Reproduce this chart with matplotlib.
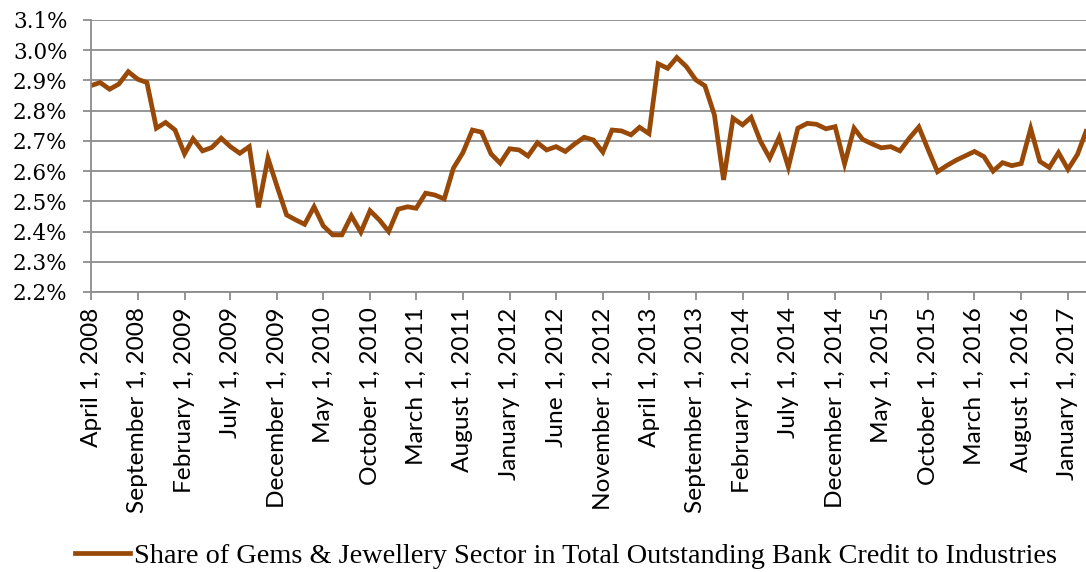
import matplotlib
matplotlib.use("Agg")
import matplotlib.pyplot as plt
import pandas as pd

# monthly share (%) from April 2008 to March 2017
months = pd.date_range("2008-04-01", "2017-03-01", freq="MS")
share = [
    2.883, 2.893, 2.871, 2.888, 2.929, 2.904, 2.893, 2.742, 2.761, 2.736,  # 2008-04 .. 2009-01
    2.657, 2.707, 2.667, 2.678, 2.709, 2.681, 2.659, 2.681, 2.480, 2.643,  # 2009-02 .. 2009-11
    2.549, 2.455, 2.438, 2.424, 2.482, 2.419, 2.389, 2.389, 2.452, 2.398,  # 2009-12 .. 2010-09
    2.469, 2.438, 2.400, 2.474, 2.482, 2.477, 2.527, 2.521, 2.508, 2.610,  # 2010-10 .. 2011-07
    2.661, 2.736, 2.729, 2.657, 2.626, 2.674, 2.670, 2.650, 2.694, 2.670,  # 2011-08 .. 2012-05
    2.681, 2.665, 2.690, 2.712, 2.703, 2.663, 2.736, 2.733, 2.720, 2.745,  # 2012-06 .. 2013-03
    2.724, 2.955, 2.940, 2.976, 2.946, 2.902, 2.882, 2.786, 2.571, 2.775,  # 2013-04 .. 2014-01
    2.753, 2.778, 2.698, 2.643, 2.712, 2.613, 2.742, 2.758, 2.755, 2.740,  # 2014-02 .. 2014-11
    2.747, 2.624, 2.742, 2.705, 2.690, 2.677, 2.681, 2.667, 2.709, 2.746,  # 2014-12 .. 2015-09
    2.672, 2.598, 2.618, 2.636, 2.651, 2.665, 2.648, 2.600, 2.628, 2.618,  # 2015-10 .. 2016-07
    2.625, 2.741, 2.632, 2.612, 2.661, 2.606, 2.655, 2.731,                # 2016-08 .. 2017-03
]
y_ticks = [2.2, 2.3, 2.4, 2.5, 2.6, 2.7, 2.8, 2.9, 3.0, 3.1]
label = "Share of Gems & Jewellery Sector in Total Outstanding Bank Credit to Industries"

line_color = "#984807"
grid_color = "#8c8c8c"

fig = plt.figure(figsize=(10.86, 5.72), dpi=100)
ax = fig.add_axes([91 / 1086, 1 - 292 / 572, 1 - 91 / 1086, 272 / 572])

ax.plot(months, share, color=line_color, lw=3.4, solid_joinstyle="miter",
        label=label)

ax.set_ylim(y_ticks[0], y_ticks[-1])
ax.set_yticks(y_ticks)
ax.set_yticklabels([f"{v:.1f}%" for v in y_ticks],
                   family="DejaVu Serif", fontsize=15.5)
ax.grid(axis="y", color=grid_color, lw=1.3)
ax.set_axisbelow(True)

ax.set_xlim(months[0], months[-1])
tick_dates = months[::5]
ax.set_xticks(tick_dates)
ax.set_xticklabels([f"{d:%B} 1, {d.year}" for d in tick_dates],
                   rotation=90, family="Lato", fontsize=17.6)

for side in ["top", "right"]:
    ax.spines[side].set_visible(False)
for side in ["left", "bottom"]:
    ax.spines[side].set_color(grid_color)
    ax.spines[side].set_linewidth(1.3)
ax.tick_params(axis="both", color=grid_color, width=1.3, length=6,
               labelcolor="black")
ax.tick_params(axis="y", pad=11)
ax.tick_params(axis="x", pad=5)

fig.legend(loc="center", bbox_to_anchor=(566 / 1086, 1 - 556 / 572),
           frameon=False, prop={"family": "Liberation Serif", "size": 20.3},
           handlelength=1.95, handletextpad=0.15)

fig.savefig("out.png", dpi=100)
